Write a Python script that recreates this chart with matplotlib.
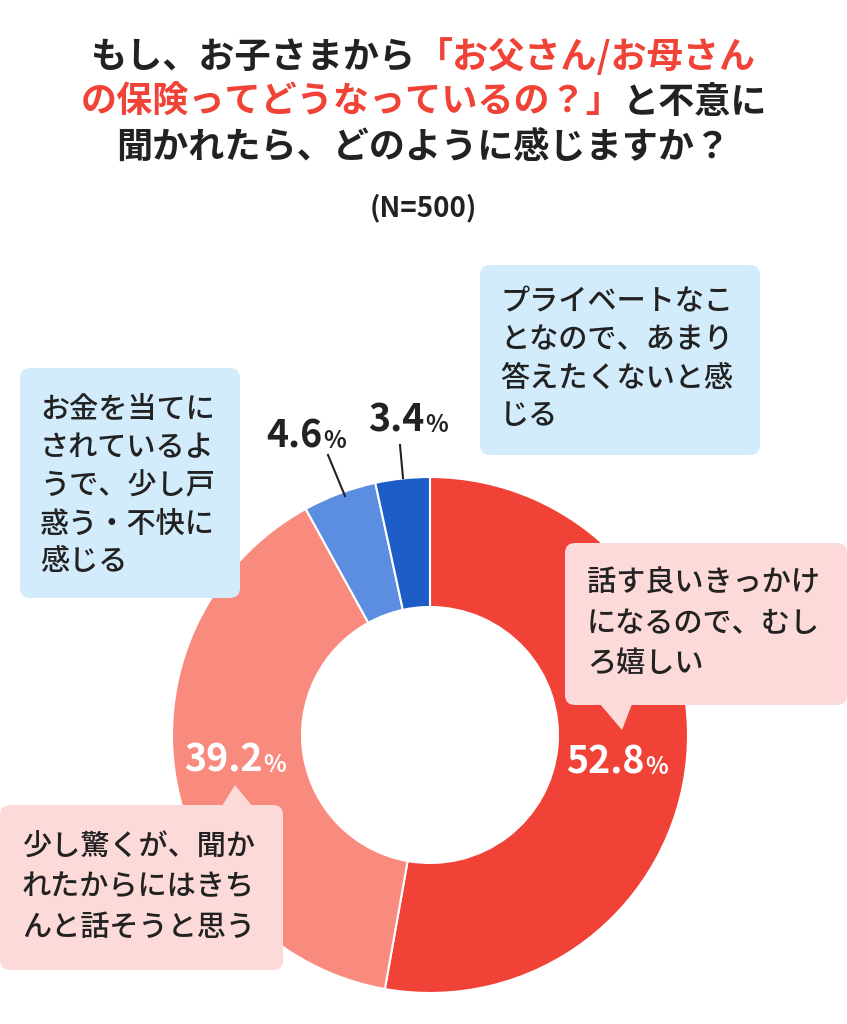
import matplotlib
matplotlib.use("Agg")
import matplotlib.pyplot as plt
from matplotlib.patches import FancyBboxPatch, Polygon

plt.rcParams["font.family"] = ["Noto Sans CJK JP", "DejaVu Sans"]

W, H = 847, 1024
RED = "#F04236"
PINK = "#F98A7E"
MBLUE = "#5B8EE0"
DBLUE = "#1E5CC8"
TXT = "#222222"
BOX_BLUE = "#D3ECFB"
BOX_PINK = "#FDDADA"

shares = [52.8, 39.2, 4.6, 3.4]
share_labels = ["52.8", "39.2", "4.6", "3.4"]
colors = [RED, PINK, MBLUE, DBLUE]
answers = [
    ["話す良いきっかけ", "になるので、むし", "ろ嬉しい"],
    ["少し驚くが、聞か", "れたからにはきち", "んと話そうと思う"],
    ["お金を当てに", "されているよ", "うで、少し戸", "惑う・不快に", "感じる"],
    ["プライベートなこ", "となので、あまり", "答えたくないと感", "じる"],
]

fig = plt.figure(figsize=(W / 100, H / 100), dpi=100)
ax = fig.add_axes([0, 0, 1, 1])


def Y(y):
    return H - y


# donut
cx, cy, r = 430, Y(735), 258
ax.pie(shares, colors=colors, startangle=90, counterclock=False,
       center=(cx, cy), radius=r, frame=True,
       wedgeprops=dict(width=r - 128, edgecolor="white", linewidth=1.5))
ax.set_xlim(0, W)
ax.set_ylim(0, H)
ax.set_aspect("equal")
ax.axis("off")

renderer = fig.canvas.get_renderer()


def mixed_line(parts, y, size=26):
    widths = []
    texts = []
    for s, c in parts:
        t = ax.text(0, Y(y), s, color=c, fontsize=size, fontweight="bold",
                    va="center", ha="left")
        widths.append(t.get_window_extent(renderer).width)
        texts.append(t)
    x = (W - sum(widths)) / 2
    for t, w in zip(texts, widths):
        t.set_x(x)
        x += w


mixed_line([("もし、お子さまから", TXT), ("「お父さん/お母さん", RED)], 57)
mixed_line([("の保険ってどうなっているの？」", RED), ("と不意に", TXT)], 102)
mixed_line([("聞かれたら、どのように感じますか？", TXT)], 147)
ax.text(W / 2, Y(208), "(N=500)", ha="center", va="center", fontsize=20,
        fontweight="bold", color=TXT)


def box(x0, y0, x1, y1, fc, lines, tx, ty0, step=38):
    ax.add_patch(FancyBboxPatch((x0, Y(y1)), x1 - x0, y1 - y0,
                                boxstyle="round,pad=0,rounding_size=10",
                                fc=fc, ec="none", zorder=3))
    for i, s in enumerate(lines):
        ax.text(tx, Y(ty0 + i * step), s, fontsize=21, color=TXT,
                fontweight="medium", va="center", ha="left", zorder=4)


box(480, 265, 760, 455, BOX_BLUE, answers[3], 500, 302)
box(20, 368, 240, 598, BOX_BLUE, answers[2], 40, 410)
box(565, 543, 847, 705, BOX_PINK, answers[0], 587, 583, step=40)
ax.add_patch(Polygon([(600, Y(704)), (632, Y(704)), (622, Y(730))],
                     fc=BOX_PINK, ec="none", zorder=3))
box(0, 805, 283, 970, BOX_PINK, answers[1], 22, 847, step=40)
ax.add_patch(Polygon([(222, Y(806)), (252, Y(806)), (235, Y(785))],
                     fc=BOX_PINK, ec="none", zorder=3))


def pct(x, y, val, color):
    t = ax.text(x, Y(y), val, fontsize=27, fontweight="bold", color=color,
                va="baseline", ha="left", zorder=5)
    bb = t.get_window_extent(renderer)
    ax.text(x + bb.width + 1, Y(y), "%", fontsize=17, fontweight="bold",
            color=color, va="baseline", ha="left", zorder=5)


pct(566, 774, share_labels[0], "white")
pct(184, 772, share_labels[1], "white")
pct(266, 448, share_labels[2], TXT)
pct(368, 432, share_labels[3], TXT)

ax.plot([345, 328], [Y(496), Y(455)], color=TXT, lw=1.5, zorder=5)
ax.plot([403, 400], [Y(478), Y(445)], color=TXT, lw=1.5, zorder=5)

fig.savefig("out.png", dpi=100, facecolor="white")
